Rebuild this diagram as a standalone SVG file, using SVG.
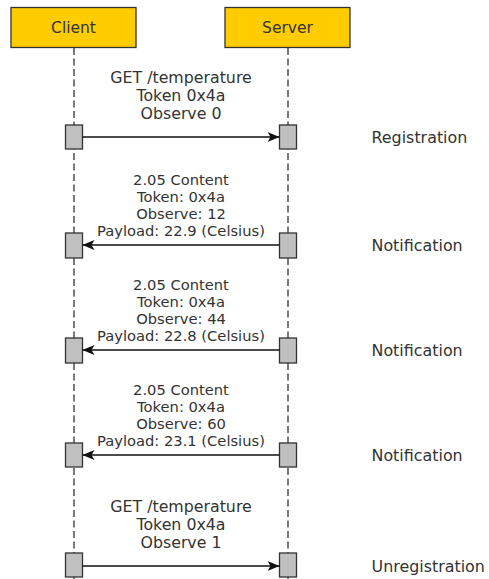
<svg xmlns="http://www.w3.org/2000/svg" width="489" height="579" viewBox="0 0 489 579">
  <style>
    text { font-family: "DejaVu Sans", "Liberation Sans", sans-serif; fill: #333333; }
    .hdr { fill: #FFCC00; stroke: #333333; stroke-width: 1.3; }
    .hdr-t { font-size: 15.5px; text-anchor: middle; }
    .life { stroke: #222222; stroke-width: 1.2; stroke-dasharray: 7 3.5; fill: none; }
    .act { fill: #C0C0C0; stroke: #333333; stroke-width: 1.3; }
    .msg { stroke: #111111; stroke-width: 1.3; fill: none; }
    .lbl { font-size: 14.7px; text-anchor: middle; }
    .lbl16 { font-size: 15.8px; text-anchor: middle; }
    .side { font-size: 15.9px; }
  </style>
  <defs>
    <marker id="arrow" viewBox="0 0 12 10" refX="12" refY="5" markerWidth="12" markerHeight="10" markerUnits="userSpaceOnUse" orient="auto">
      <path d="M0,0 L12,5 L0,10 L3,5 Z" fill="#111111"/>
    </marker>
  </defs>

  <rect width="489" height="579" fill="#ffffff"/>

  <!-- lifelines -->
  <g id="lifelines">
    <line class="life" x1="74" y1="48" x2="74" y2="579"/>
    <line class="life" x1="288" y1="48" x2="288" y2="579"/>
  </g>

  <!-- participants -->
  <g id="client">
    <rect class="hdr" x="11" y="7.5" width="125" height="40"/>
    <text class="hdr-t" x="73.5" y="32.5">Client</text>
  </g>
  <g id="server">
    <rect class="hdr" x="225" y="7.5" width="125" height="40"/>
    <text class="hdr-t" x="287.5" y="32.5">Server</text>
  </g>

  <!-- activation bars -->
  <g id="activations">
    <rect class="act" x="65.5" y="125" width="17" height="24"/>
    <rect class="act" x="279.5" y="125" width="17" height="24"/>
    <rect class="act" x="65.5" y="233" width="17" height="25"/>
    <rect class="act" x="279.5" y="233" width="17" height="25"/>
    <rect class="act" x="65.5" y="338" width="17" height="25"/>
    <rect class="act" x="279.5" y="338" width="17" height="25"/>
    <rect class="act" x="65.5" y="443" width="17" height="24"/>
    <rect class="act" x="279.5" y="443" width="17" height="24"/>
    <rect class="act" x="65.5" y="553" width="17" height="24"/>
    <rect class="act" x="279.5" y="553" width="17" height="24"/>
  </g>

  <!-- connectors -->
  <g id="connectors">
    <line class="msg" x1="82.5" y1="137" x2="279.5" y2="137" marker-end="url(#arrow)"/>
    <line class="msg" x1="279.5" y1="245" x2="82.5" y2="245" marker-end="url(#arrow)"/>
    <line class="msg" x1="279.5" y1="350" x2="82.5" y2="350" marker-end="url(#arrow)"/>
    <line class="msg" x1="279.5" y1="455" x2="82.5" y2="455" marker-end="url(#arrow)"/>
    <line class="msg" x1="82.5" y1="566" x2="279.5" y2="566" marker-end="url(#arrow)"/>
  </g>

  <!-- message labels -->
  <g id="msg-register">
    <text class="lbl16" x="181" y="83">GET /temperature</text>
    <text class="lbl16" x="181" y="101">Token 0x4a</text>
    <text class="lbl16" x="181" y="119">Observe 0</text>
  </g>
  <g id="msg-notify-1">
    <text class="lbl" x="181" y="185">2.05 Content</text>
    <text class="lbl" x="181" y="202">Token: 0x4a</text>
    <text class="lbl" x="181" y="219">Observe: 12</text>
    <text class="lbl" x="181" y="236">Payload: 22.9 (Celsius)</text>
  </g>
  <g id="msg-notify-2">
    <text class="lbl" x="181" y="290">2.05 Content</text>
    <text class="lbl" x="181" y="307">Token: 0x4a</text>
    <text class="lbl" x="181" y="324">Observe: 44</text>
    <text class="lbl" x="181" y="341">Payload: 22.8 (Celsius)</text>
  </g>
  <g id="msg-notify-3">
    <text class="lbl" x="181" y="395">2.05 Content</text>
    <text class="lbl" x="181" y="412">Token: 0x4a</text>
    <text class="lbl" x="181" y="429">Observe: 60</text>
    <text class="lbl" x="181" y="446">Payload: 23.1 (Celsius)</text>
  </g>
  <g id="msg-unregister">
    <text class="lbl16" x="181" y="512">GET /temperature</text>
    <text class="lbl16" x="181" y="530">Token 0x4a</text>
    <text class="lbl16" x="181" y="548">Observe 1</text>
  </g>

  <!-- phase labels -->
  <g id="phases">
    <text class="side" x="371.5" y="142.5">Registration</text>
    <text class="side" x="371.5" y="250.5">Notification</text>
    <text class="side" x="371.5" y="356">Notification</text>
    <text class="side" x="371.5" y="461">Notification</text>
    <text class="side" x="371.5" y="571.5">Unregistration</text>
  </g>
</svg>
